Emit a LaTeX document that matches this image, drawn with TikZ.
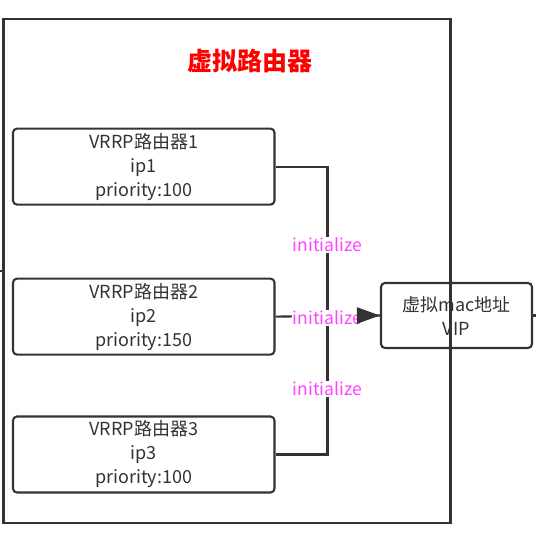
\documentclass[tikz,border=0pt]{standalone}
\usepackage{fontspec}
\setmainfont{Noto Sans CJK SC}
\usetikzlibrary{arrows.meta}
\definecolor{linegray}{HTML}{333333}
\definecolor{initpink}{HTML}{FF44FF}
\tikzset{
  link/.style={draw=linegray, line width=2.1pt},
  router/.style={link, rounded corners=4pt, minimum width=261.5pt, minimum height=76pt,
    inner sep=0pt, align=center, text=linegray, font=\fontsize{18}{24}\selectfont},
  initlabel/.style={fill=white, text=initpink, inner sep=1pt, font=\fontsize{17.5}{20}\selectfont},
}
\begin{document}
\begin{tikzpicture}[x=1pt,y=-1pt]
    \useasboundingbox (0,0) rectangle (536,558);
    \node[link, line width=2.3pt, minimum width=447pt, minimum height=504pt, inner sep=0pt] (frame) at (227,271) {};
    \node[text=red, font=\fontsize{25}{25}\selectfont\bfseries] (title) at (250,61) {虚拟路由器};
    \node[router] (r1) at (143.75,166.6) {VRRP路由器1\\ip1\\priority:100};
    \node[router] (r2) at (143.75,316.6) {VRRP路由器2\\ip2\\priority:150};
    \node[router] (r3) at (143.75,454.5) {VRRP路由器3\\ip3\\priority:100};
    \node[router, minimum width=151pt, minimum height=65pt] (vip) at (456.5,315.5) {虚拟mac地址\\VIP};
    \coordinate (junc) at (327.5,316.6);
    \draw[link] (r1.east) -| (junc);
    \draw[link] (r3.east) -| (junc);
    \draw[link] (r2.east) -- (vip.west);
    \draw[link] (frame.west) -- ++(-4,0);
    \draw[link] (vip.east) -- ++(5,0);
    \node[initlabel] (lab1) at (327.5,245) {initialize};
    \node[initlabel] (lab2) at (327.5,318) {initialize};
    \node[initlabel] (lab3) at (327.5,389) {initialize};
    \draw[link, -{Triangle[length=23pt,width=16pt]}] ([xshift=-23pt]vip.west) -- (vip.west);
\end{tikzpicture}
\end{document}
